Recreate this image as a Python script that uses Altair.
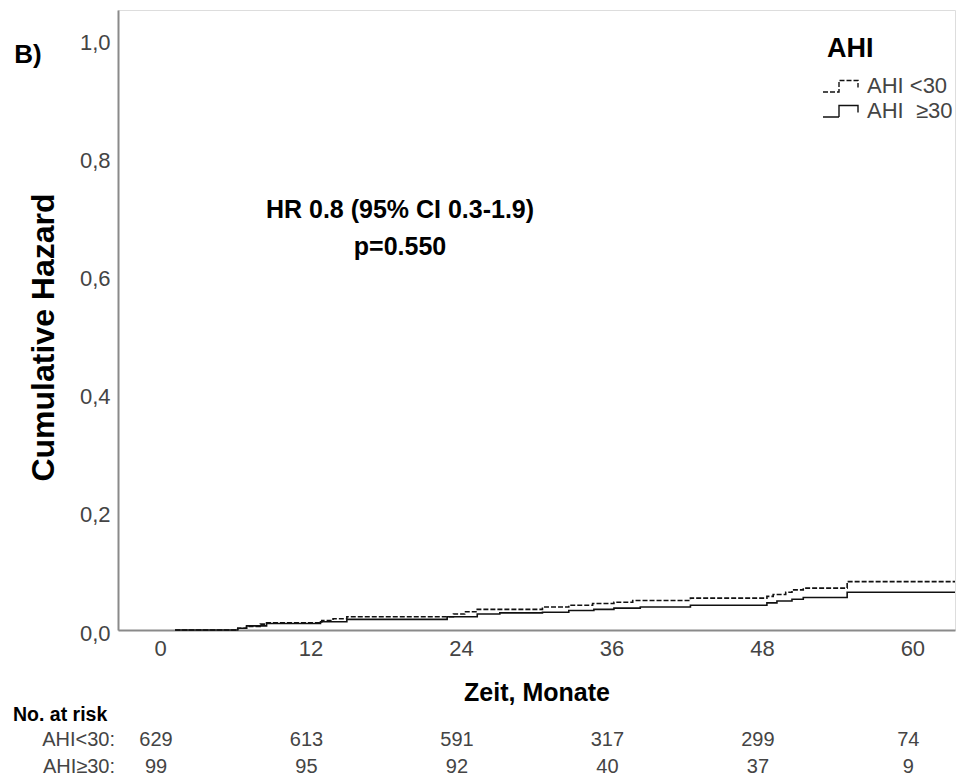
import altair as alt
import pandas as pd

# ---------------- data ----------------
groups = ["AHI <30", "AHI\u00a0 \u226530"]

t_lo = [1.2, 6.2, 6.9, 8.0, 8.5, 12.9, 13.8, 14.9, 23.4, 24.3, 25.3, 30.5, 32.6,
        34.5, 36.2, 37.7, 42.3, 48.4, 48.9, 49.9, 50.4, 51.3, 54.8, 63.4]
h_lo = [0.0, 0.003, 0.006, 0.010, 0.012, 0.016, 0.019, 0.0225, 0.027, 0.031, 0.035,
        0.039, 0.042, 0.045, 0.047, 0.050, 0.054, 0.057, 0.060, 0.064, 0.068, 0.071,
        0.082, 0.082]

t_hi = [1.2, 6.2, 6.9, 8.5, 12.8, 14.9, 22.9, 25.3, 27.1, 30.5, 32.6, 34.6, 36.2,
        38.3, 42.3, 48.4, 49.2, 50.4, 51.3, 54.8, 63.4]
h_hi = [0.0, 0.003, 0.007, 0.011, 0.014, 0.018, 0.0225, 0.027, 0.029, 0.030, 0.033,
        0.035, 0.037, 0.039, 0.042, 0.046, 0.049, 0.052, 0.055, 0.064, 0.064]

risk_times = [0, 12, 24, 36, 48, 60]
risk_lo = [629, 613, 591, 317, 299, 74]
risk_hi = [99, 95, 92, 40, 37, 9]
risk_rows = ["AHI<30:", "AHI\u226530:"]

x_ticks = [0, 12, 24, 36, 48, 60]
y_ticks = [0.0, 0.2, 0.4, 0.6, 0.8, 1.0]

# ---------------- style ----------------
FONT = "Liberation Sans, Arial, sans-serif"
W, H = 837, 620
AXIS_GRAY = "#8a8a8a"
LABEL_GRAY = "#444444"

curves = pd.DataFrame(
    {"t": t_lo + t_hi,
     "h": h_lo + h_hi,
     "group": [groups[0]] * len(t_lo) + [groups[1]] * len(t_hi)}
)

x_scale = alt.Scale(domain=[-3.35, 63.4], nice=False, zero=False)
y_scale = alt.Scale(domain=[0, 1.05], nice=False)

symbol_path = "M-2.6,0.6H-1V-0.55H0.9V0.15"

lines = alt.Chart(curves).mark_line(
    interpolate="step-after", strokeWidth=1.6, color="#111111"
).encode(
    x=alt.X("t:Q", scale=x_scale,
            axis=alt.Axis(values=x_ticks, title="Zeit, Monate", grid=False, ticks=False,
                          domainColor=AXIS_GRAY, domainWidth=2,
                          labelFont=FONT, labelFontSize=22, labelColor=LABEL_GRAY,
                          labelPadding=8,
                          titleFont=FONT, titleFontSize=25, titleFontWeight="bold",
                          titleColor="#000000", titleBaseline="alphabetic",
                          titleX=W / 2, titleY=70)),
    y=alt.Y("h:Q", scale=y_scale,
            axis=alt.Axis(values=y_ticks, title="Cumulative Hazard", grid=False, ticks=False,
                          domainColor=AXIS_GRAY, domainWidth=2,
                          labelExpr="replace(format(datum.value, '.1f'), '.', ',')",
                          labelFont=FONT, labelFontSize=22, labelColor=LABEL_GRAY,
                          labelPadding=8, labelOffset=3,
                          titleFont=FONT, titleFontSize=32, titleFontWeight="bold",
                          titleColor="#000000", titleBaseline="alphabetic",
                          titleX=-65, titleY=327, titleAngle=270)),
    strokeDash=alt.StrokeDash(
        "group:N",
        scale=alt.Scale(domain=groups, range=[[5, 2], [1, 0]]),
        legend=alt.Legend(title=None, orient="none", legendX=720, legendY=65,
                          symbolType=symbol_path, symbolSize=400,
                          symbolStrokeColor="#111111", symbolStrokeWidth=1.4,
                          symbolFillColor="transparent",
                          labelFont=FONT, labelFontSize=22, labelColor=LABEL_GRAY,
                          labelOffset=7, rowPadding=3),
    ),
)

risk_df = pd.DataFrame({"t": risk_times + risk_times,
                        "n": risk_lo + risk_hi,
                        "row": [0] * len(risk_times) + [1] * len(risk_times)})

row_y = [730, 757]

def risk_layer(i):
    return alt.Chart(risk_df).transform_filter(alt.datum.row == i).mark_text(
        font=FONT, fontSize=20, color=LABEL_GRAY, align="center", baseline="middle", dx=-4
    ).encode(x=alt.X("t:Q", scale=x_scale), y=alt.value(row_y[i]), text="n:Q")

rows_df = pd.DataFrame({"label": risk_rows, "row": [0, 1]})

def row_label(i):
    return alt.Chart(rows_df).transform_filter(alt.datum.row == i).mark_text(
        font=FONT, fontSize=20, color=LABEL_GRAY, align="right", baseline="middle"
    ).encode(x=alt.value(-3), y=alt.value(row_y[i]), text="label:N")

ann_df = pd.DataFrame({
    "txt": ["B)", "HR 0.8 (95% CI 0.3-1.9)", "p=0.550", "AHI", "No. at risk"],
    "id": [0, 1, 2, 3, 4],
})

def ann(i, x, y, size, align="center", baseline="alphabetic"):
    return alt.Chart(ann_df).transform_filter(alt.datum.id == i).mark_text(
        font=FONT, fontSize=size, fontWeight="bold", color="#000000",
        align=align, baseline=baseline
    ).encode(x=alt.value(x), y=alt.value(y), text="txt:N")

chart = alt.layer(
    lines,
    risk_layer(0), risk_layer(1),
    row_label(0), row_label(1),
    ann(0, -90, 45, 26, baseline="middle"),
    ann(1, 282, 208, 25),
    ann(2, 282, 245, 25),
    ann(3, 709, 47, 27, align="left"),
    ann(4, -105, 705, 19.5, align="left", baseline="middle"),
).properties(
    width=W, height=H, autosize="none",
    padding={"left": 110, "top": 2, "right": 9, "bottom": 148},
).configure_view(stroke=None).configure(font=FONT)

chart.save("out.html", embed_options={"renderer": "svg", "actions": False})
